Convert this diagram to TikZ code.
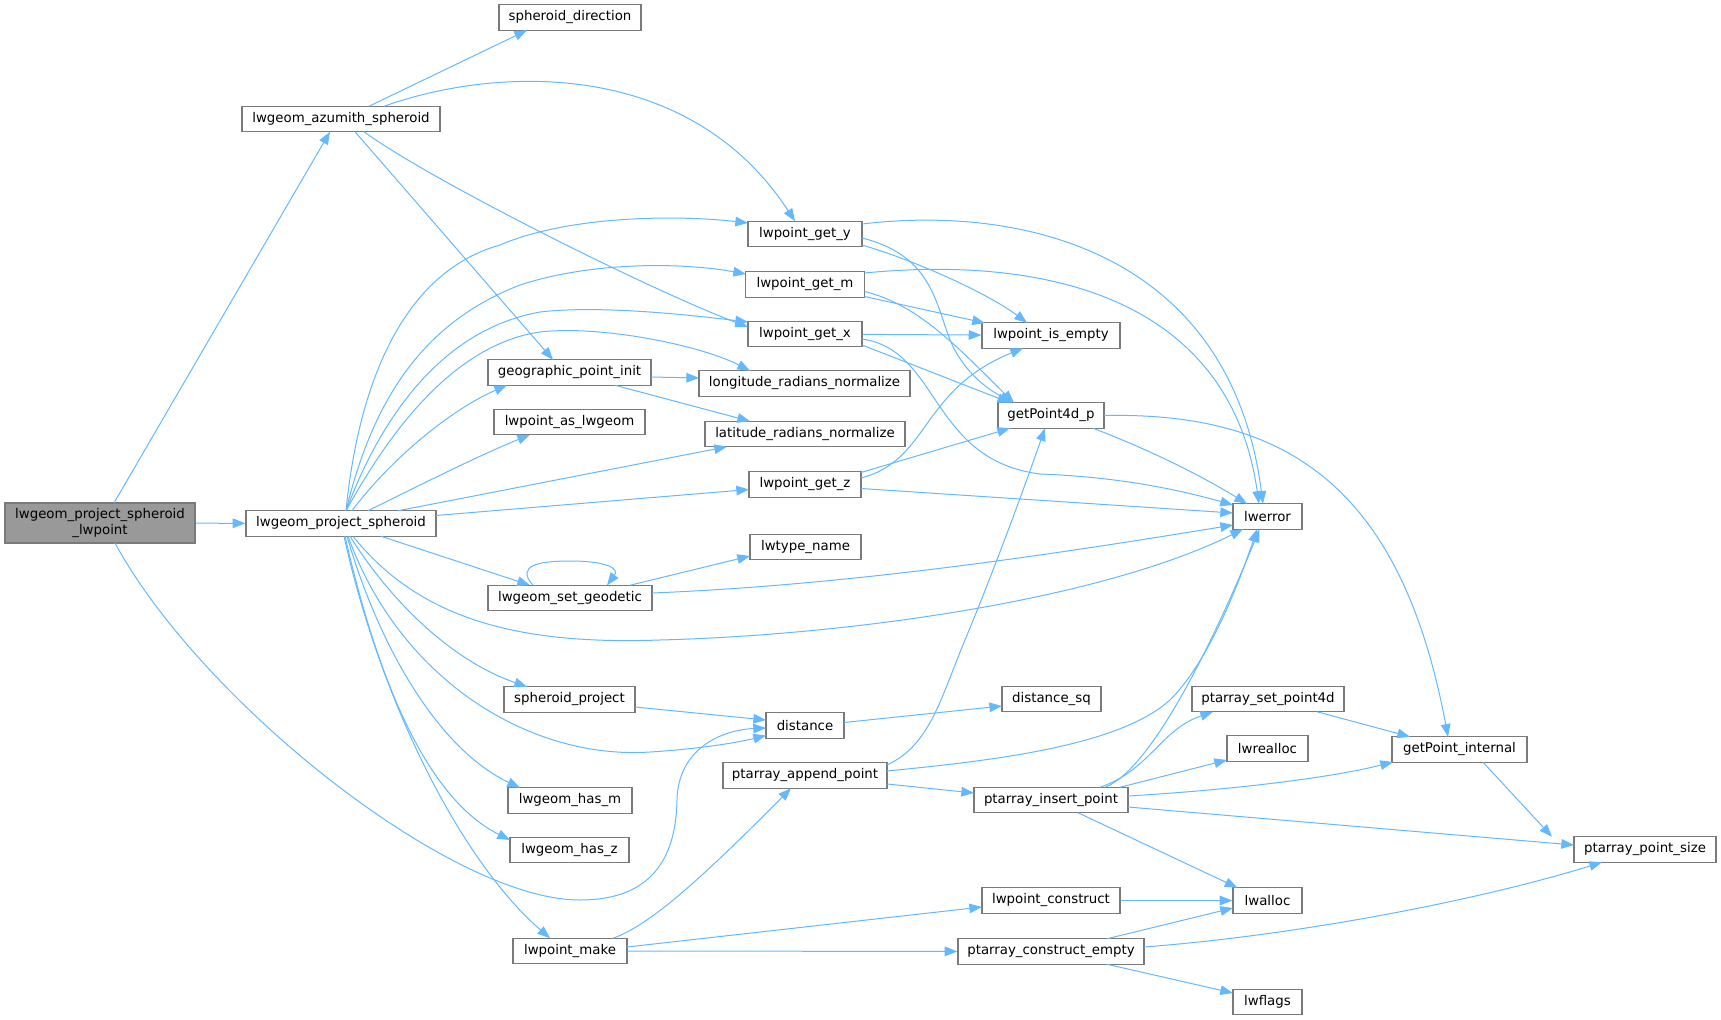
\documentclass[tikz,border=0pt]{standalone}
\usepackage{fontspec}
\setmainfont{DejaVu Sans}
\usetikzlibrary{arrows.meta}
\definecolor{edgec}{HTML}{63B8FF}
\definecolor{bordc}{HTML}{7A7A7A}
\definecolor{mainfill}{HTML}{999999}
\begin{document}
\begin{tikzpicture}[x=0.75pt,y=-0.75pt,
  fn/.style={draw=bordc, line width=0.9pt, fill=white, inner sep=0pt, minimum height=19.1pt, font=\fontsize{10}{11.5}\selectfont, text=black},
  edge/.style={draw=edgec, line width=0.75pt, -{Triangle[length=9.5pt,width=7.2pt]}}]
\useasboundingbox (0,0) rectangle (1721,1020);
% nodes
\node[fn,minimum width=142.5pt,minimum height=30pt,fill=mainfill,align=center] (P) at (100,523) {lwgeom\_project\_spheroid\\\_lwpoint};
\node[fn,minimum width=148.5pt] (AZ) at (341,119) {lwgeom\_azumith\_spheroid};
\node[fn,minimum width=106.5pt] (SD) at (570,17.5) {spheroid\_direction};
\node[fn,minimum width=142.5pt] (PS) at (341,523.5) {lwgeom\_project\_spheroid};
\node[fn,minimum width=85.5pt] (GY) at (805,234) {lwpoint\_get\_y};
\node[fn,minimum width=89.25pt] (GM) at (805,284.5) {lwpoint\_get\_m};
\node[fn,minimum width=85.5pt] (GX) at (805,334) {lwpoint\_get\_x};
\node[fn,minimum width=122.25pt] (GPI) at (569.5,372.5) {geographic\_point\_init};
\node[fn,minimum width=158.25pt] (LON) at (804.5,383.5) {longitude\_radians\_normalize};
\node[fn,minimum width=113.25pt] (LAG) at (569.5,422) {lwpoint\_as\_lwgeom};
\node[fn,minimum width=150pt] (LAT) at (805,434) {latitude\_radians\_normalize};
\node[fn,minimum width=84pt] (GZ) at (805,484.5) {lwpoint\_get\_z};
\node[fn,minimum width=83.25pt] (LT) at (805.5,547) {lwtype\_name};
\node[fn,minimum width=123pt] (SG) at (570,598) {lwgeom\_set\_geodetic};
\node[fn,minimum width=98.25pt] (SP) at (569.5,699.5) {spheroid\_project};
\node[fn,minimum width=58.5pt] (DI) at (805,725.5) {distance};
\node[fn,minimum width=93pt] (HM) at (570,800.5) {lwgeom\_has\_m};
\node[fn,minimum width=89.25pt] (HZ) at (569.5,850) {lwgeom\_has\_z};
\node[fn,minimum width=85.5pt] (MK) at (570,951) {lwpoint\_make};
\node[fn,minimum width=123pt] (AP) at (805,775.5) {ptarray\_append\_point};
\node[fn,minimum width=103.5pt] (IE) at (1051,335.5) {lwpoint\_is\_empty};
\node[fn,minimum width=79.5pt] (G4) at (1051,415.5) {getPoint4d\_p};
\node[fn,minimum width=51.75pt] (ER) at (1267.5,516.5) {lwerror};
\node[fn,minimum width=74.25pt] (DSQ) at (1051.5,699) {distance\_sq};
\node[fn,minimum width=114pt] (SP4) at (1268,699) {ptarray\_set\_point4d};
\node[fn,minimum width=60.75pt] (RA) at (1267.5,748.5) {lwrealloc};
\node[fn,minimum width=101.25pt] (GPIN) at (1459.5,749.5) {getPoint\_internal};
\node[fn,minimum width=115.5pt] (IP) at (1051,800) {ptarray\_insert\_point};
\node[fn,minimum width=106.5pt] (PPS) at (1645,849.5) {ptarray\_point\_size};
\node[fn,minimum width=51.75pt] (AL) at (1267.5,900.5) {lwalloc};
\node[fn,minimum width=103.5pt] (LC) at (1051,900.5) {lwpoint\_construct};
\node[fn,minimum width=139.5pt] (CE) at (1051,951.5) {ptarray\_construct\_empty};
\node[fn,minimum width=51.75pt] (LF) at (1267.5,1002) {lwflags};
% edges
\draw[edge] ([shift={(14,-20)}]P.center) -- ([shift={(-11,12.75)}]AZ.center);
\draw[edge] (P) -- (PS);
\draw[edge] ([shift={(15,20)}]P.center) .. controls (200,700) and (450,900) .. (580,900) .. controls (650,900) and (676,860) .. (677,800) .. controls (678,750) and (720,730) .. ([shift={(-39,2.5)}]DI.center);
\draw[edge] ([shift={(28,-12.75)}]AZ.center) -- ([shift={(-43,12.75)}]SD.center);
\draw[edge] ([shift={(43,-12.75)}]AZ.center) .. controls (500,65) and (690,60) .. ([shift={(-10,-12.75)}]GY.center);
\draw[edge] ([shift={(23,12.75)}]AZ.center) .. controls (430,180) and (650,290) .. ([shift={(-57,-7)}]GX.center);
\draw[edge] ([shift={(14,12.75)}]AZ.center) -- ([shift={(-16.5,-12.75)}]GPI.center);
% from lwgeom_project_spheroid
\draw[edge] ([shift={(5,-12.75)}]PS.center) .. controls (360,370) and (410,270) .. (500,245) .. controls (570,215) and (680,215) .. ([shift={(-57,-11)}]GY.center);
\draw[edge] ([shift={(5,-12.75)}]PS.center) .. controls (375,390) and (430,320) .. (520,285) .. controls (590,262) and (680,262) .. ([shift={(-59,-10.5)}]GM.center);
\draw[edge] ([shift={(5,-12.75)}]PS.center) .. controls (380,420) and (440,330) .. (540,312) .. controls (600,305) and (690,315) .. ([shift={(-57,-12)}]GX.center);
\draw[edge] ([shift={(5,-12.75)}]PS.center) .. controls (385,440) and (450,345) .. (540,332) .. controls (600,325) and (700,345) .. ([shift={(-54.5,-12.75)}]LON.center);
\draw[edge] ([shift={(11,-12.75)}]PS.center) .. controls (390,460) and (450,410) .. ([shift={(-62.5,12.75)}]GPI.center);
\draw[edge] ([shift={(27,-12.75)}]PS.center) .. controls (420,485) and (480,455) .. ([shift={(-39.5,12.75)}]LAG.center);
\draw[edge] ([shift={(57,-12.75)}]PS.center) -- ([shift={(-78,12.75)}]LAT.center);
\draw[edge] ([shift={(95,-8)}]PS.center) -- ([shift={(-56,5)}]GZ.center);
\draw[edge] ([shift={(40,12.75)}]PS.center) -- ([shift={(-40,-12.75)}]SG.center);
\draw[edge] ([shift={(12,12.75)}]PS.center) .. controls (420,620) and (520,645) .. (660,640) .. controls (850,635) and (1100,600) .. ([shift={(-24.5,12.75)}]ER.center);
\draw[edge] ([shift={(9,12.75)}]PS.center) .. controls (390,600) and (450,660) .. ([shift={(-42.5,-12.75)}]SP.center);
\draw[edge] ([shift={(7,12.75)}]PS.center) .. controls (400,680) and (530,760) .. (650,752) .. controls (700,749) and (740,742) .. ([shift={(-39,10)}]DI.center);
\draw[edge] ([shift={(6,12.75)}]PS.center) .. controls (380,650) and (440,750) .. ([shift={(-50,-12.75)}]HM.center);
\draw[edge] ([shift={(4,12.75)}]PS.center) .. controls (380,690) and (430,800) .. ([shift={(-59.5,-10)}]HZ.center);
\draw[edge] ([shift={(3,12.75)}]PS.center) .. controls (380,700) and (460,860) .. ([shift={(-20,-12.75)}]MK.center);
% lwgeom_set_geodetic
\draw[edge] ([shift={(-37,-12.75)}]SG.center) .. controls (515,565) and (540,561) .. (570,561) .. controls (605,561) and (620,568) .. ([shift={(37,-12.75)}]SG.center);
\draw[edge] ([shift={(60,-12.75)}]SG.center) -- ([shift={(-55.5,9)}]LT.center);
\draw[edge] ([shift={(82,-5)}]SG.center) .. controls (850,585) and (1050,555) .. ([shift={(-34.5,8.5)}]ER.center);
% geographic_point_init
\draw[edge] ([shift={(81.5,4.5)}]GPI.center) -- ([shift={(-105.5,-5.5)}]LON.center);
\draw[edge] ([shift={(45.5,12.75)}]GPI.center) -- ([shift={(-55,-12.75)}]LAT.center);
% getters
\draw[edge] ([shift={(57,-10)}]GY.center) .. controls (1020,205) and (1230,250) .. ([shift={(-4.5,-12.75)}]ER.center);
\draw[edge] ([shift={(57,11)}]GY.center) .. controls (920,262) and (990,295) .. ([shift={(-24,-12.75)}]IE.center);
\draw[edge] ([shift={(57,4)}]GY.center) .. controls (930,255) and (935,300) .. (950,340) .. controls (965,375) and (990,390) .. ([shift={(-39,-12.75)}]G4.center);
\draw[edge] ([shift={(59.5,-11.5)}]GM.center) .. controls (1050,255) and (1230,300) .. ([shift={(-8.5,-12.75)}]ER.center);
\draw[edge] ([shift={(59.5,12)}]GM.center) -- ([shift={(-66,-12.5)}]IE.center);
\draw[edge] ([shift={(59.5,7)}]GM.center) .. controls (920,305) and (960,350) .. ([shift={(-37,-12.75)}]G4.center);
\draw[edge] (GX) -- (IE);
\draw[edge] ([shift={(57,11)}]GX.center) -- ([shift={(-41,-12.75)}]G4.center);
\draw[edge] ([shift={(57,5)}]GX.center) .. controls (940,350) and (930,460) .. (1040,474) .. controls (1120,477) and (1180,490) .. ([shift={(-34.5,-11.5)}]ER.center);
\draw[edge] ([shift={(56,-6.5)}]GZ.center) .. controls (930,460) and (920,390) .. ([shift={(-28,12.75)}]IE.center);
\draw[edge] ([shift={(56,-12)}]GZ.center) -- ([shift={(-41,12.75)}]G4.center);
\draw[edge] ([shift={(56,4)}]GZ.center) -- ([shift={(-34.5,-3.5)}]ER.center);
% getPoint4d_p
\draw[edge] ([shift={(42,12.75)}]G4.center) .. controls (1150,450) and (1200,475) .. ([shift={(-20.5,-12.75)}]ER.center);
\draw[edge] ([shift={(53,0)}]G4.center) .. controls (1280,412) and (1400,480) .. ([shift={(-11.5,-12.75)}]GPIN.center);
% distance
\draw[edge] ([shift={(65.5,7.5)}]SP.center) -- ([shift={(-39,-5.5)}]DI.center);
\draw[edge] ([shift={(39,-3)}]DI.center) -- ([shift={(-49.5,7)}]DSQ.center);
% ptarray_append_point
\draw[edge] ([shift={(82,-10.5)}]AP.center) .. controls (930,745) and (940,700) .. (965,640) .. controls (990,580) and (1020,500) .. ([shift={(-6,12.75)}]G4.center);
\draw[edge] ([shift={(82,-4.5)}]AP.center) .. controls (1000,760) and (1120,745) .. (1170,700) .. controls (1210,660) and (1240,580) .. ([shift={(-10.5,12.75)}]ER.center);
\draw[edge] ([shift={(82,8.5)}]AP.center) -- ([shift={(-77,-7)}]IP.center);
% ptarray_insert_point
\draw[edge] ([shift={(54,-12.75)}]IP.center) .. controls (1150,770) and (1210,650) .. ([shift={(-8,12.75)}]ER.center);
\draw[edge] ([shift={(49,-12.75)}]IP.center) .. controls (1150,770) and (1160,730) .. ([shift={(-55,12.75)}]SP4.center);
\draw[edge] ([shift={(69,-12.75)}]IP.center) -- ([shift={(-40.5,11.5)}]RA.center);
\draw[edge] ([shift={(77,-4)}]IP.center) .. controls (1230,790) and (1330,778) .. ([shift={(-66.5,12.5)}]GPIN.center);
\draw[edge] ([shift={(77,7)}]IP.center) -- ([shift={(-71,-4.5)}]PPS.center);
\draw[edge] ([shift={(27,12.75)}]IP.center) -- ([shift={(-30,-12.75)}]AL.center);
\draw[edge] ([shift={(49,12.75)}]SP4.center) -- ([shift={(-49.5,-12.75)}]GPIN.center);
\draw[edge] ([shift={(23.5,12.75)}]GPIN.center) -- ([shift={(-93,-12.75)}]PPS.center);
% lwpoint_make
\draw[edge] ([shift={(43,-12.75)}]MK.center) .. controls (650,925) and (700,880) .. ([shift={(-14,12.75)}]AP.center);
\draw[edge] ([shift={(57,-4)}]MK.center) -- ([shift={(-69,6.5)}]LC.center);
\draw[edge] (MK) -- (CE);
\draw[edge] (LC) -- (AL);
\draw[edge] ([shift={(56,-12.75)}]CE.center) -- ([shift={(-34.5,7.5)}]AL.center);
\draw[edge] ([shift={(93,-4.5)}]CE.center) .. controls (1300,935) and (1480,900) .. ([shift={(-43,12.75)}]PPS.center);
\draw[edge] ([shift={(56,12.75)}]CE.center) -- ([shift={(-34.5,-9)}]LF.center);
\end{tikzpicture}
\end{document}
